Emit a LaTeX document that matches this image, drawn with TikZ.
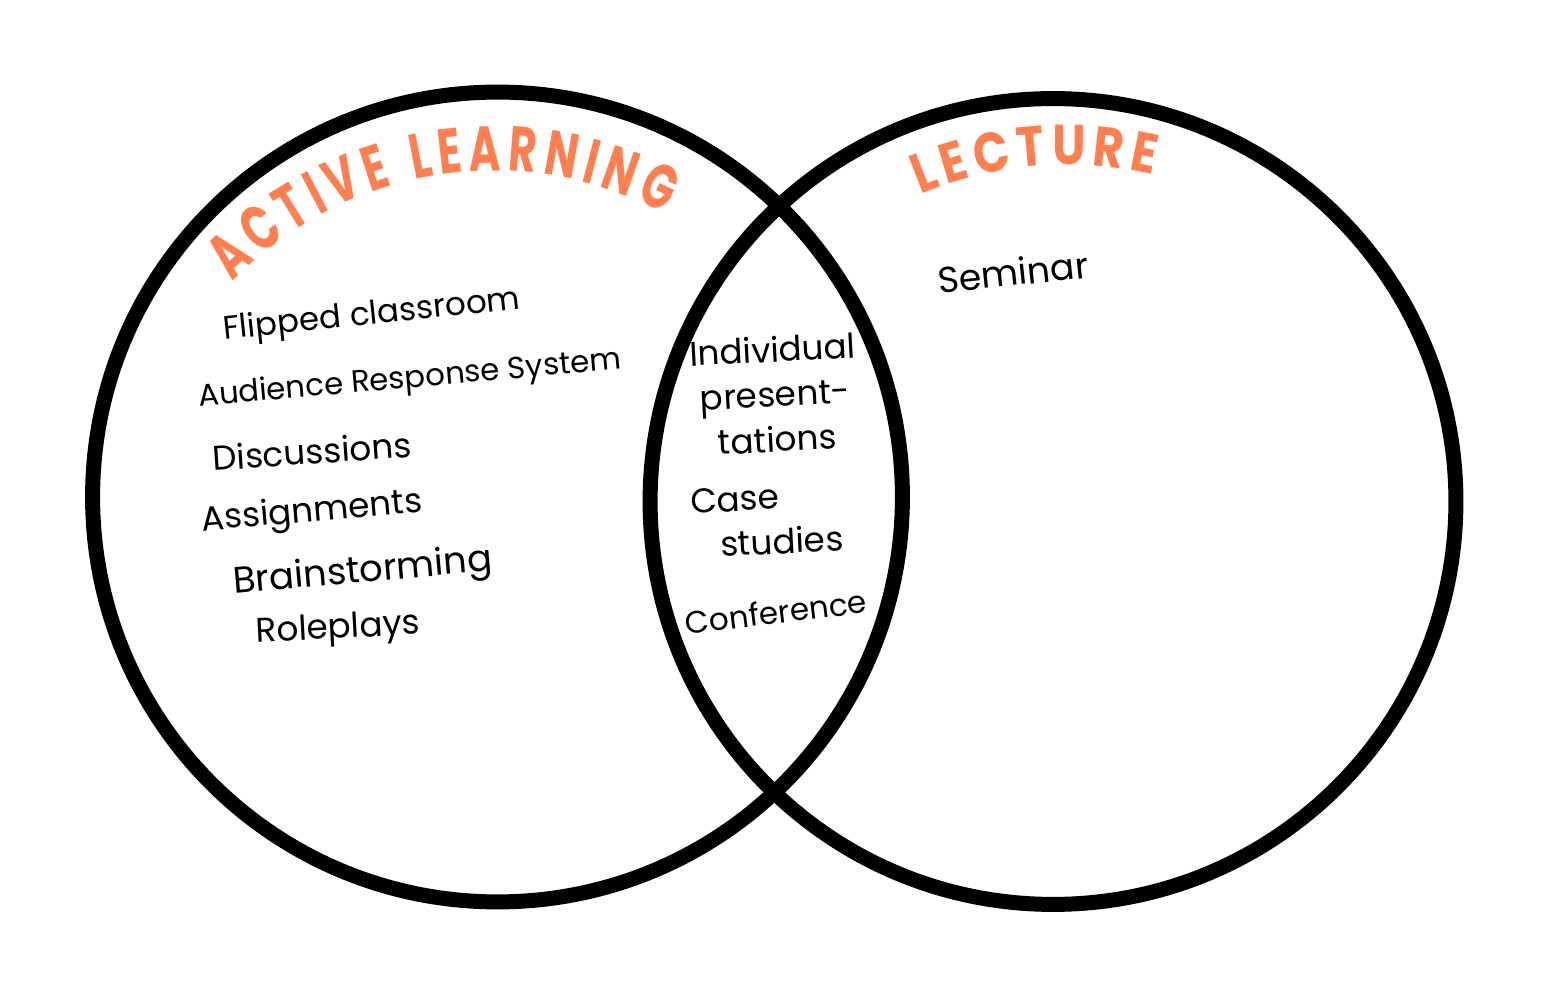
\documentclass[tikz,border=0pt]{standalone}
\usepackage{fontspec}
\setmainfont{Poppins}
\newfontfamily\headfont{Poppins}[FakeStretch=0.68]
\newfontfamily\lecturefont{Poppins}[FakeStretch=0.84]
\usetikzlibrary{decorations.text}
\definecolor{markerorange}{RGB}{255,127,80}

\begin{document}
\begin{tikzpicture}[
    x=0.02cm, y=0.02cm,
    setbox/.style = {circle, draw=black, line width=0.3cm, inner sep=0pt},
    item/.style = {align=center, font=\fontsize{#1}{25.6}\selectfont, inner sep=0pt},
    item/.default = 19.5,
    heading/.style = {decorate, decoration={text along path, text align=fit to path, text={#1}}}
]
\fill[white] (0,0) rectangle (1550,1000);

% the two sets
\node (active) [setbox, minimum size=16.2cm] at (497.5,503) {};
\node (lecture) [setbox, minimum size=16.12cm] at (1053,498.5) {};

% headings along the rims
\path[heading={|\color{markerorange}\headfont\bfseries\fontsize{36}{36}\selectfont|ACTIVE LEARNING}]
    ([shift={(494,466)}]136:363) arc[start angle=136, end angle=62, radius=363];
\path[heading={|\color{markerorange}\lecturefont\bfseries\fontsize{32}{32}\selectfont|LECTURE}]
    ([shift={(1066,462)}]113:373) arc[start angle=113, end angle=76.5, radius=373];

% active learning only
\node (flipped) [item=18.5, rotate=6] at (372,684) {Flipped classroom};
\node (ars) [item=17.5, rotate=5] at (410,620) {Audience Response System};
\node (discuss) [item, rotate=4] at (312,549) {Discussions};
\node (assign) [item, rotate=5] at (312,487) {Assignments};
\node (brainstorm) [item=21, rotate=5] at (363,427) {Brainstorming};
\node (roleplay) [item, rotate=3] at (338,370) {Roleplays};

% both
\node (indiv) [item, rotate=3] at (775,606) {Individual\\present-\\tations};
\node (cases) [item, align=left, rotate=3] at (767,480) {Case\\\hspace*{0.8em}studies};
\node (conf) [item=17.7, rotate=7] at (776,388) {Conference};

% lecture only
\node (seminar) [item=20.6, rotate=6] at (1013,728) {Seminar};
\end{tikzpicture}
\end{document}
